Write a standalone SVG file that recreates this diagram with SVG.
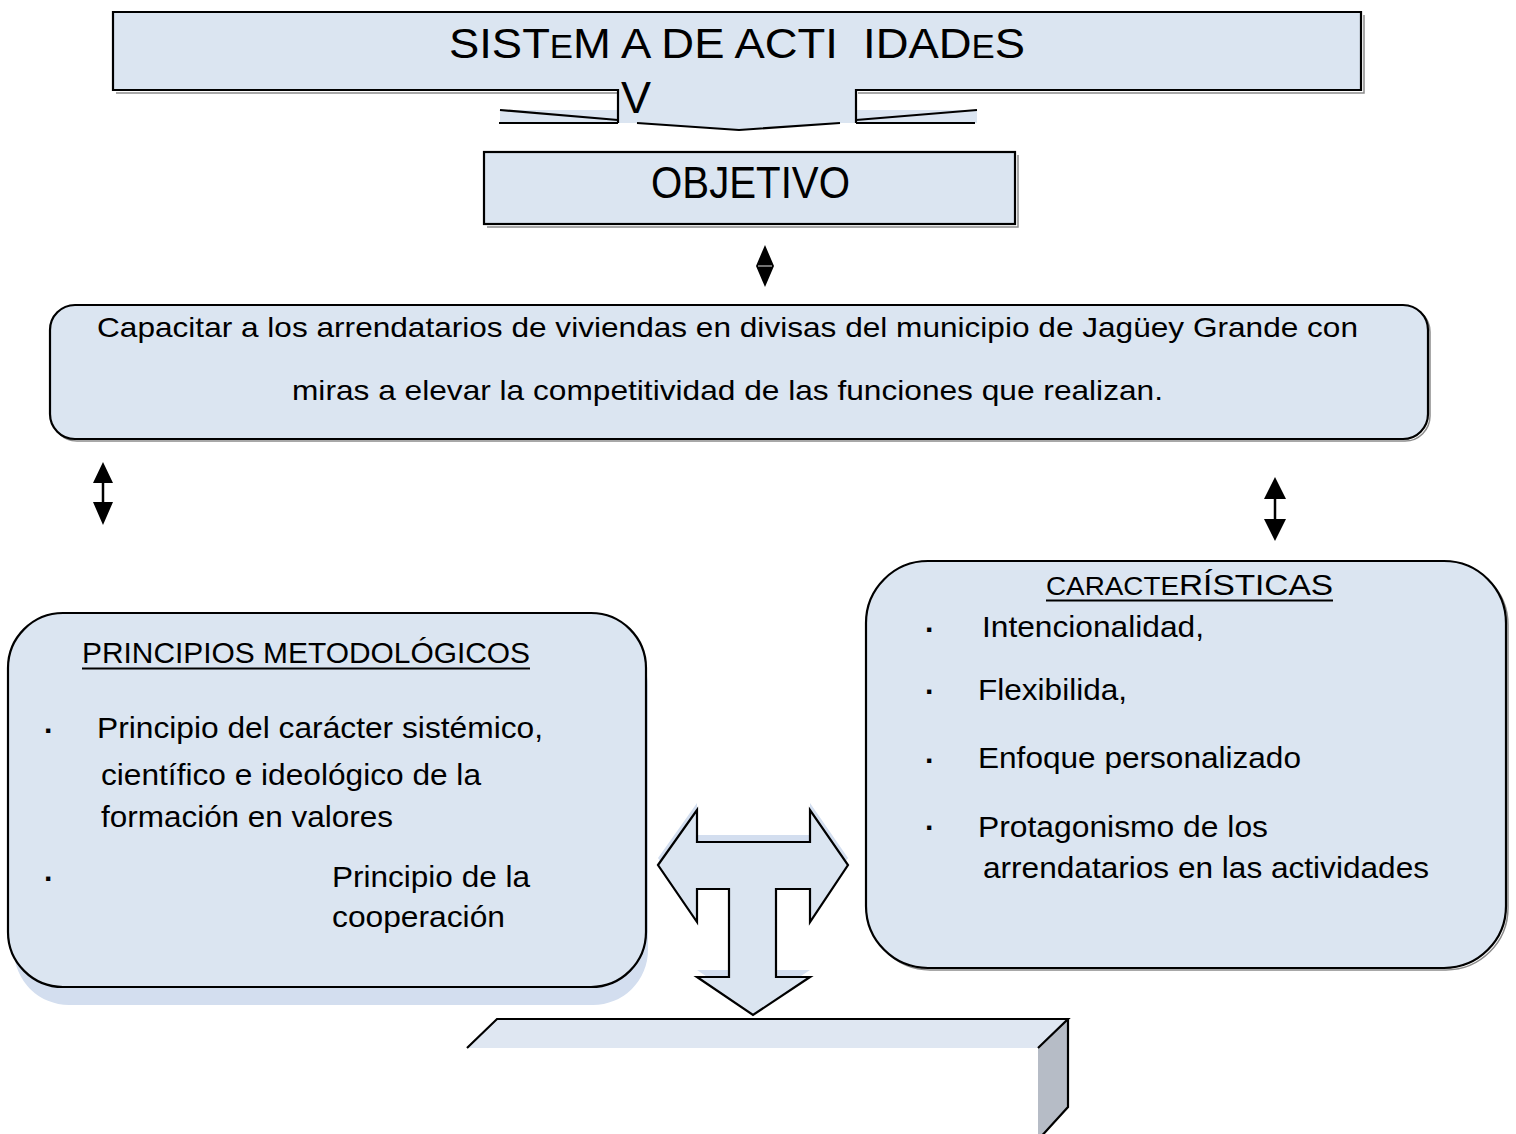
<svg xmlns="http://www.w3.org/2000/svg" width="1516" height="1134" viewBox="0 0 1516 1134">
<style>
.box{fill:#dbe5f1;stroke:#000;stroke-width:2.2}
.sh{fill:none;stroke:#8c8c8c;stroke-width:1.5}
.ln{fill:none;stroke:#000;stroke-width:2.2}
.t{font-family:"Liberation Sans",Arial,sans-serif;fill:#000}
.tri{fill:#000;stroke:none}
</style>
<rect width="1516" height="1134" fill="#fff"/>

<g id="sistema">
  <path class="sh" d="M116,93 H618 M858,93 H1364 V15"/>
  <rect x="113" y="12" width="1248" height="78" fill="#dbe5f1"/>
  <rect x="500" y="110" width="477" height="13" fill="#dbe5f1"/>
  <path d="M618,88 H856 V123 H840 L739,130 L637,123 H618 Z" fill="#dbe5f1"/>
  <path class="ln" d="M618,123 V90 H113 V12 H1361 V90 H856 V123"/>
  <path class="ln" d="M500,110 L618,120 M499,123 H618 M856,120 L977,110 M856,123 H975 M637,123 L739,130 L840,123"/>
  <text class="t" x="449" y="58" font-size="43" textLength="576" lengthAdjust="spacingAndGlyphs" xml:space="preserve">SIST<tspan font-size="33">E</tspan>M A DE ACTI  IDAD<tspan font-size="33">E</tspan>S</text>
  <text class="t" x="621" y="113" font-size="45">V</text>
</g>

<g id="objetivo">
  <path class="sh" d="M487,227 H1018 V155"/>
  <rect class="box" x="484" y="152" width="531" height="72"/>
  <text class="t" x="651" y="198" font-size="44" textLength="199" lengthAdjust="spacingAndGlyphs">OBJETIVO</text>
</g>

<g id="capacitar">
  <rect x="52" y="307" width="1378" height="134" rx="25" fill="none" stroke="#8c8c8c" stroke-width="1.5"/>
  <rect class="box" x="50" y="305" width="1378" height="134" rx="25"/>
  <text class="t" x="97" y="337" font-size="28" textLength="1261" lengthAdjust="spacingAndGlyphs">Capacitar a los arrendatarios de viviendas en divisas del municipio de Jagüey Grande con</text>
  <text class="t" x="292" y="400" font-size="28" textLength="871" lengthAdjust="spacingAndGlyphs">miras a elevar la competitividad de las funciones que realizan.</text>
</g>

<g id="principios">
  <rect x="14" y="631" width="634" height="374" rx="55" fill="#d3deef"/>
  <rect class="box" x="8" y="613" width="638" height="374" rx="55"/>
  <text class="t" x="82" y="663" font-size="29" textLength="448" lengthAdjust="spacingAndGlyphs">PRINCIPIOS METODOLÓGICOS</text>
  <path class="ln" d="M82,668.5 H530" stroke-width="2"/>
  <text class="t" x="44" y="741" font-size="30" font-weight="bold">·</text>
  <text class="t" x="97" y="738" font-size="30" textLength="446" lengthAdjust="spacingAndGlyphs">Principio del carácter sistémico,</text>
  <text class="t" x="101" y="785" font-size="30" textLength="380" lengthAdjust="spacingAndGlyphs">científico e ideológico de la</text>
  <text class="t" x="101" y="827" font-size="30" textLength="292" lengthAdjust="spacingAndGlyphs">formación en valores</text>
  <text class="t" x="44" y="889" font-size="30" font-weight="bold">·</text>
  <text class="t" x="332" y="887" font-size="30" textLength="198" lengthAdjust="spacingAndGlyphs">Principio de la</text>
  <text class="t" x="332" y="927" font-size="30" textLength="173" lengthAdjust="spacingAndGlyphs">cooperación</text>
</g>

<g id="caracteristicas">
  <rect x="868" y="563" width="640" height="407" rx="62" fill="none" stroke="#8c8c8c" stroke-width="1.5"/>
  <rect class="box" x="866" y="561" width="640" height="407" rx="62"/>
  <text class="t" x="1046" y="595" font-size="30" textLength="287" lengthAdjust="spacingAndGlyphs"><tspan font-size="25">CARACTE</tspan>RÍSTICAS</text>
  <path class="ln" d="M1046,600.5 H1333" stroke-width="2"/>
  <text class="t" x="925" y="640" font-size="30" font-weight="bold">·</text>
  <text class="t" x="982" y="637" font-size="30" textLength="222" lengthAdjust="spacingAndGlyphs">Intencionalidad,</text>
  <text class="t" x="925" y="702" font-size="30" font-weight="bold">·</text>
  <text class="t" x="978" y="700" font-size="30" textLength="149" lengthAdjust="spacingAndGlyphs">Flexibilida,</text>
  <text class="t" x="925" y="771" font-size="30" font-weight="bold">·</text>
  <text class="t" x="978" y="768" font-size="30" textLength="323" lengthAdjust="spacingAndGlyphs">Enfoque personalizado</text>
  <text class="t" x="925" y="838" font-size="30" font-weight="bold">·</text>
  <text class="t" x="978" y="837" font-size="30" textLength="290" lengthAdjust="spacingAndGlyphs">Protagonismo de los</text>
  <text class="t" x="983" y="878" font-size="30" textLength="446" lengthAdjust="spacingAndGlyphs">arrendatarios en las actividades</text>
</g>

<g id="base">
  <polygon points="467,1048 497,1019 1068,1019 1038,1048" fill="#dfe7f2"/>
  <polygon points="1038,1048 1068,1019 1068,1107 1038,1140" fill="#b6bcc6"/>
  <path class="ln" d="M467,1048 L497,1019 H1068 L1038,1048 M1068,1019 V1107 L1038,1140"/>
</g>

<g id="connectors">
  <path class="tri" d="M765,245 L774,266 H756 Z M756,266 H774 L765,287 Z"/>
  <path d="M758,266 H772" stroke="#999" stroke-width="1.5"/>
  <path class="tri" d="M103,462 L113,483 H93 Z M93,502 H113 L103,525 Z"/>
  <path d="M103,482 V503" stroke="#000" stroke-width="2.5"/>
  <path class="tri" d="M1275,477 L1286,499 H1264 Z M1264,519 H1286 L1275,541 Z"/>
  <path d="M1275,498 V520" stroke="#000" stroke-width="2.5"/>
  <path transform="translate(0,-7)" fill="#d3deef" d="M658,865 L697,810 V842 H810 V810 L848,865 L810,922 V889 H776 V977 H810 L753,1015 L697,977 H729 V889 H697 V922 Z"/>
  <path fill="#dbe5f1" stroke="#000" stroke-width="2.2" stroke-linejoin="miter" d="M658,865 L697,810 V842 H810 V810 L848,865 L810,922 V889 H776 V977 H810 L753,1015 L697,977 H729 V889 H697 V922 Z"/>
</g>
</svg>
